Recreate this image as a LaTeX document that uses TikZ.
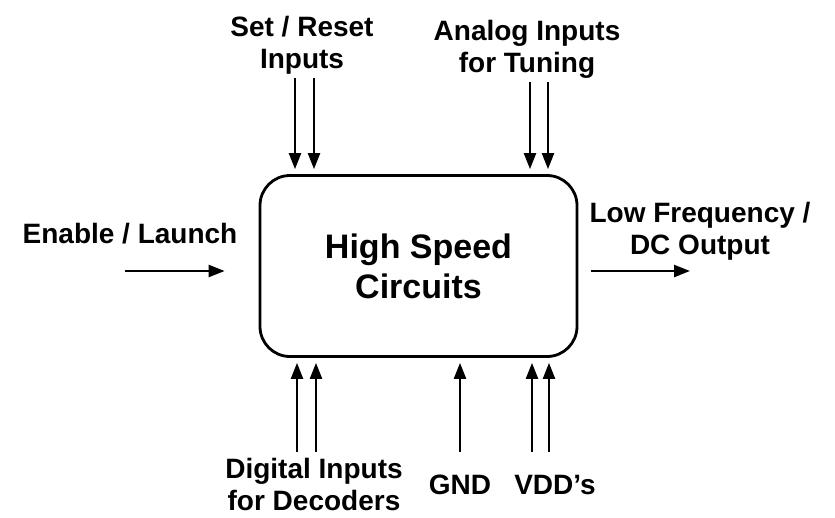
\documentclass[tikz,border=0pt]{standalone}
\usepackage{fontspec}
\setmainfont{Liberation Sans}
\usepackage{tikz}
\usetikzlibrary{positioning,arrows.meta,calc}

\begin{document}
\begin{tikzpicture}[
  x=1pt,y=-1pt,
  % one label font for every pin, a larger one for the block itself
  lbl/.style={font=\bfseries\fontsize{28}{32}\selectfont,align=center,inner sep=0pt},
  blk/.style={draw,line width=2.8pt,rounded corners=30pt,minimum width=317pt,minimum height=181pt,
    font=\bfseries\fontsize{34}{40}\selectfont,align=center},
  pin/.style={-{Triangle[length=16pt,width=12pt]},line width=2.4pt,shorten >=5pt},
]
\useasboundingbox (0,0) rectangle (835,517);

% =========== the block ======================================================
\node[blk] (hsc) at (418.5,266) {High Speed\\Circuits};

% =========== labels (base = last line) ======================================
\node[lbl,anchor=base] (setrst) at (302,68) {Set / Reset\\Inputs};
\node[lbl,anchor=base] (analog) at (527,72) {Analog Inputs\\for Tuning};
\node[lbl,anchor=base] (enable) at (130,243) {Enable / Launch};
\node[lbl,anchor=base] (lowfreq) at (700,254) {Low Frequency /\\DC Output};
\node[lbl,anchor=base] (digital) at (314,510) {Digital Inputs\\for Decoders};
\node[lbl,anchor=base] (gnd) at (460,494) {GND};
\node[lbl,anchor=base] (vdd) at (555,494) {VDD's};

% =========== free ends of the pins ==========================================
\coordinate (sr1) at (295,78);
\coordinate (sr2) at (314,78);
\coordinate (an1) at (530,82);
\coordinate (an2) at (548,82);
\coordinate (en0) at (125,271);
\coordinate (dc0) at (690,271);
\coordinate (dg1) at (297,452);
\coordinate (dg2) at (316,452);
\coordinate (gn0) at (460,452);
\coordinate (vd1) at (532,452);
\coordinate (vd2) at (549,452);

% =========== pins into and out of the block =================================
\foreach \p in {sr1,sr2,an1,an2}
  \draw[pin] (\p) -- (\p |- hsc.north);
\foreach \p in {dg1,dg2,gn0,vd1,vd2}
  \draw[pin] (\p) -- (\p |- hsc.south);
\draw[pin,shorten >=0pt] (en0) -- ($(en0 -| hsc.west)+(-34,0)$);
\draw[pin,shorten >=0pt] ($(dc0 -| hsc.east)+(13,0)$) -- (dc0);

\end{tikzpicture}
\end{document}
